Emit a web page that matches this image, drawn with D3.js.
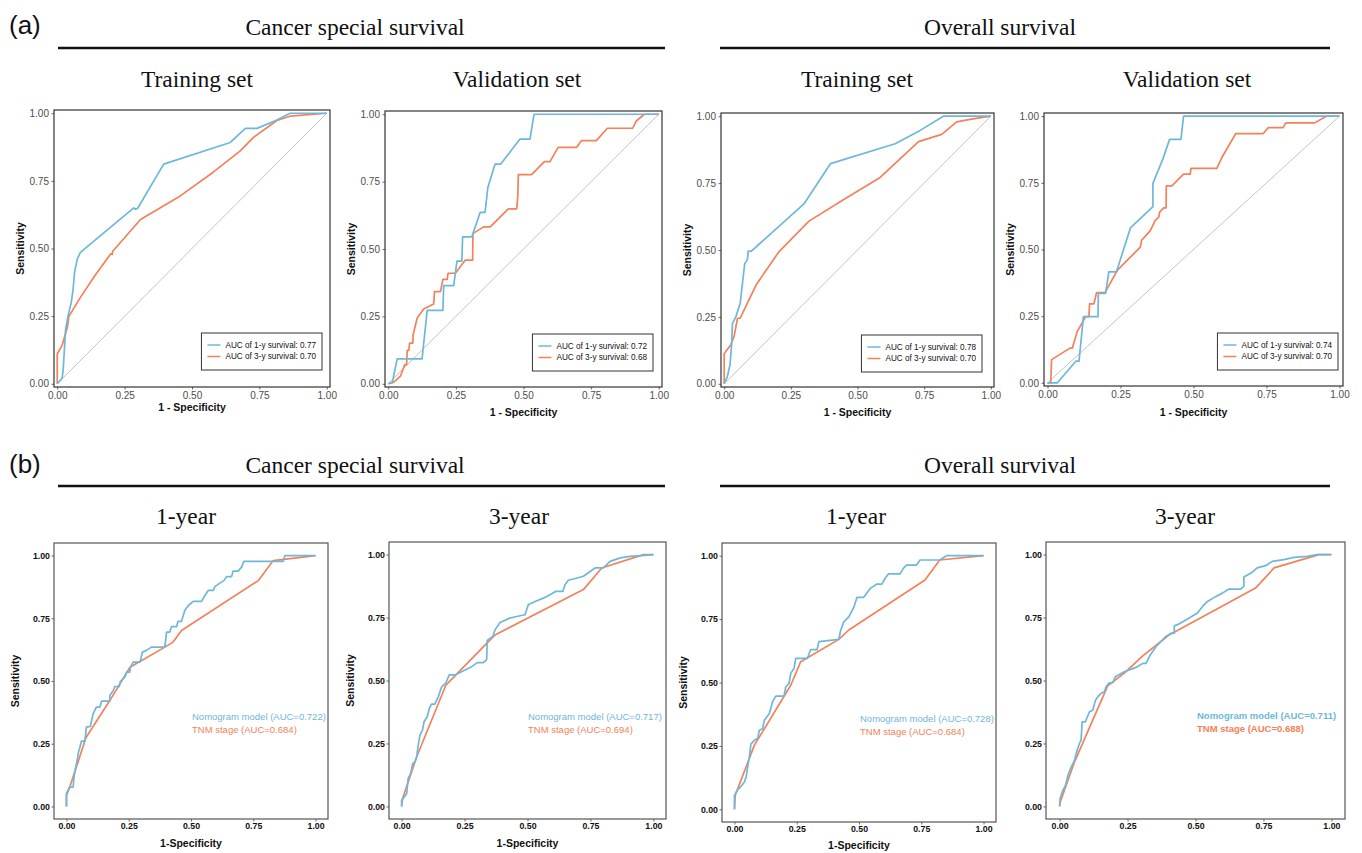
<!DOCTYPE html>
<html><head><meta charset="utf-8">
<script src="https://cdn.jsdelivr.net/npm/d3@7"></script>
<style>body{margin:0;background:#fff}svg{display:block}</style>
</head><body>
<svg id="c" width="1362" height="853"></svg>
<script>
// ---------- texts ----------
const sectionLabels = ["(a)", "(b)"];
const groupTitles = ["Cancer special survival", "Overall survival"];
const panelTitlesA = ["Training set", "Validation set", "Training set", "Validation set"];
const panelTitlesB = ["1-year", "3-year", "1-year", "3-year"];
const tickValues = [0, 0.25, 0.5, 0.75, 1];
const tickLabels = ["0.00", "0.25", "0.50", "0.75", "1.00"];
const legendA = [
  ["AUC of 1-y survival: 0.77", "AUC of 3-y survival: 0.70"],
  ["AUC of 1-y survival: 0.72", "AUC of 3-y survival: 0.68"],
  ["AUC of 1-y survival: 0.78", "AUC of 3-y survival: 0.70"],
  ["AUC of 1-y survival: 0.74", "AUC of 3-y survival: 0.70"]
];
const legendB = [
  ["Nomogram model (AUC=0.722)", "TNM stage (AUC=0.684)"],
  ["Nomogram model (AUC=0.717)", "TNM stage (AUC=0.694)"],
  ["Nomogram model (AUC=0.728)", "TNM stage (AUC=0.684)"],
  ["Nomogram model (AUC=0.711)", "TNM stage (AUC=0.688)"]
];

// ---------- data: [1-specificity, sensitivity] ----------
const cssTrain1y = [[0,0],[0.018,0.02],[0.022,0.05],[0.031,0.2],[0.04,0.25],[0.052,0.3],[0.059,0.35],[0.064,0.41],[0.074,0.46],[0.086,0.486],[0.284,0.65],[0.29,0.645],[0.298,0.648],[0.395,0.812],[0.642,0.892],[0.698,0.944],[0.741,0.944],[0.815,0.975],[0.864,1],[1,1]];
const cssTrain3y = [[0,0],[0,0.11],[0.018,0.142],[0.031,0.186],[0.038,0.21],[0.043,0.248],[0.08,0.31],[0.14,0.4],[0.198,0.48],[0.204,0.478],[0.206,0.49],[0.309,0.607],[0.45,0.69],[0.58,0.783],[0.679,0.861],[0.728,0.911],[0.815,0.973],[0.864,0.989],[1,1]];
const cssVal1y = [[0,0],[0.015,0.004],[0.033,0.092],[0.125,0.092],[0.144,0.272],[0.202,0.272],[0.205,0.364],[0.242,0.364],[0.254,0.455],[0.272,0.455],[0.275,0.545],[0.309,0.545],[0.34,0.636],[0.358,0.636],[0.368,0.727],[0.395,0.815],[0.416,0.815],[0.487,0.908],[0.524,0.908],[0.539,1],[1,1]];
const cssVal3y = [[0,0],[0.021,0.006],[0.045,0.028],[0.061,0.071],[0.068,0.071],[0.07,0.124],[0.076,0.124],[0.079,0.151],[0.091,0.151],[0.092,0.182],[0.107,0.244],[0.131,0.277],[0.168,0.296],[0.171,0.342],[0.193,0.342],[0.202,0.387],[0.218,0.387],[0.221,0.41],[0.248,0.41],[0.285,0.459],[0.312,0.459],[0.313,0.557],[0.352,0.582],[0.377,0.582],[0.444,0.649],[0.475,0.649],[0.479,0.699],[0.481,0.776],[0.53,0.776],[0.577,0.824],[0.598,0.824],[0.628,0.877],[0.696,0.877],[0.714,0.902],[0.769,0.902],[0.81,0.948],[0.904,0.948],[0.917,0.975],[0.947,1],[1,1]];
const osTrain1y = [[0,0],[0.012,0.028],[0.022,0.072],[0.028,0.15],[0.031,0.226],[0.044,0.251],[0.06,0.301],[0.077,0.449],[0.087,0.464],[0.09,0.496],[0.102,0.496],[0.299,0.672],[0.399,0.823],[0.641,0.897],[0.735,0.947],[0.822,1],[1,1]];
const osTrain3y = [[0,0],[0,0.113],[0.025,0.146],[0.037,0.177],[0.044,0.214],[0.05,0.245],[0.06,0.245],[0.12,0.37],[0.205,0.493],[0.318,0.608],[0.45,0.69],[0.585,0.771],[0.729,0.905],[0.816,0.932],[0.872,0.979],[0.922,0.988],[1,1]];
const osVal1y = [[0,0],[0.034,0],[0.097,0.081],[0.108,0.081],[0.123,0.248],[0.173,0.248],[0.174,0.335],[0.199,0.335],[0.21,0.416],[0.236,0.416],[0.284,0.581],[0.361,0.661],[0.361,0.748],[0.395,0.839],[0.418,0.913],[0.457,0.913],[0.466,1],[1,1]];
const osVal3y = [[0,0],[0.011,0],[0.014,0.087],[0.077,0.13],[0.085,0.13],[0.102,0.193],[0.131,0.248],[0.142,0.248],[0.144,0.296],[0.159,0.296],[0.168,0.338],[0.197,0.338],[0.239,0.422],[0.318,0.509],[0.322,0.534],[0.352,0.571],[0.369,0.609],[0.381,0.621],[0.384,0.64],[0.398,0.656],[0.406,0.656],[0.407,0.739],[0.426,0.739],[0.466,0.783],[0.489,0.783],[0.491,0.804],[0.58,0.804],[0.597,0.845],[0.645,0.935],[0.739,0.935],[0.756,0.957],[0.807,0.957],[0.816,0.975],[0.915,0.975],[0.955,1],[1,1]];

const cssNomo1y = [[0,0],[0,0.053],[0.007,0.065],[0.013,0.077],[0.027,0.077],[0.029,0.104],[0.033,0.137],[0.043,0.183],[0.048,0.216],[0.054,0.236],[0.06,0.26],[0.074,0.26],[0.08,0.316],[0.096,0.319],[0.107,0.369],[0.12,0.396],[0.134,0.396],[0.141,0.42],[0.174,0.42],[0.174,0.442],[0.187,0.46],[0.194,0.478],[0.212,0.478],[0.217,0.499],[0.234,0.515],[0.241,0.535],[0.254,0.535],[0.257,0.555],[0.268,0.575],[0.295,0.575],[0.305,0.615],[0.321,0.622],[0.341,0.635],[0.395,0.635],[0.402,0.695],[0.415,0.695],[0.422,0.717],[0.442,0.717],[0.448,0.738],[0.462,0.738],[0.475,0.781],[0.489,0.801],[0.509,0.817],[0.542,0.817],[0.556,0.841],[0.569,0.861],[0.589,0.861],[0.596,0.876],[0.616,0.89],[0.632,0.9],[0.643,0.916],[0.663,0.916],[0.669,0.938],[0.689,0.938],[0.703,0.954],[0.712,0.977],[0.87,0.977],[0.877,1],[1,1]];
const cssTnm1y = [[0,0],[0,0.044],[0.013,0.077],[0.04,0.157],[0.078,0.274],[0.174,0.422],[0.255,0.555],[0.395,0.635],[0.428,0.655],[0.462,0.701],[0.77,0.9],[0.83,0.98],[1,1]];
const cssNomo3y = [[0,0],[0,0.024],[0.02,0.05],[0.026,0.11],[0.036,0.13],[0.044,0.17],[0.053,0.177],[0.06,0.197],[0.066,0.243],[0.073,0.283],[0.083,0.303],[0.089,0.336],[0.102,0.356],[0.11,0.389],[0.119,0.406],[0.132,0.406],[0.146,0.436],[0.159,0.475],[0.176,0.491],[0.189,0.522],[0.212,0.522],[0.252,0.542],[0.278,0.555],[0.301,0.571],[0.325,0.571],[0.338,0.584],[0.34,0.659],[0.362,0.675],[0.371,0.701],[0.391,0.73],[0.43,0.748],[0.457,0.754],[0.49,0.761],[0.503,0.801],[0.53,0.814],[0.563,0.827],[0.589,0.841],[0.613,0.854],[0.64,0.854],[0.649,0.88],[0.662,0.898],[0.682,0.903],[0.722,0.914],[0.768,0.947],[0.801,0.947],[0.828,0.973],[0.868,0.987],[0.907,0.993],[0.954,0.996],[1,1]];
const cssTnm3y = [[0,0],[0.004,0.031],[0.06,0.197],[0.176,0.482],[0.371,0.681],[0.722,0.861],[0.795,0.947],[0.96,1],[1,1]];
const osNomo1y = [[0,0],[0,0.055],[0.011,0.075],[0.027,0.091],[0.04,0.108],[0.047,0.128],[0.053,0.167],[0.06,0.207],[0.066,0.257],[0.08,0.272],[0.093,0.279],[0.1,0.312],[0.113,0.318],[0.12,0.351],[0.14,0.378],[0.153,0.424],[0.166,0.446],[0.199,0.446],[0.206,0.483],[0.219,0.496],[0.226,0.536],[0.239,0.555],[0.246,0.595],[0.293,0.595],[0.306,0.63],[0.332,0.63],[0.339,0.661],[0.419,0.67],[0.426,0.704],[0.439,0.739],[0.459,0.759],[0.479,0.796],[0.492,0.836],[0.519,0.836],[0.545,0.871],[0.572,0.888],[0.592,0.888],[0.605,0.911],[0.618,0.928],[0.665,0.928],[0.678,0.95],[0.691,0.963],[0.731,0.963],[0.745,0.983],[0.824,0.983],[0.851,1],[1,1]];
const osTnm1y = [[0,0],[0.003,0.055],[0.08,0.253],[0.226,0.489],[0.266,0.582],[0.419,0.67],[0.459,0.707],[0.765,0.904],[0.824,0.983],[1,1]];
const osNomo3y = [[0,0],[0.002,0.031],[0.012,0.064],[0.022,0.084],[0.031,0.124],[0.043,0.157],[0.055,0.183],[0.061,0.21],[0.073,0.25],[0.079,0.263],[0.083,0.336],[0.095,0.336],[0.1,0.349],[0.11,0.376],[0.122,0.382],[0.132,0.422],[0.141,0.436],[0.153,0.449],[0.165,0.455],[0.171,0.475],[0.183,0.491],[0.196,0.491],[0.205,0.515],[0.238,0.535],[0.281,0.552],[0.306,0.568],[0.318,0.568],[0.33,0.595],[0.355,0.635],[0.373,0.655],[0.391,0.675],[0.41,0.688],[0.422,0.688],[0.422,0.717],[0.44,0.725],[0.471,0.744],[0.507,0.768],[0.526,0.794],[0.544,0.814],[0.575,0.834],[0.599,0.847],[0.623,0.863],[0.666,0.863],[0.678,0.874],[0.678,0.911],[0.709,0.93],[0.727,0.947],[0.758,0.956],[0.782,0.973],[0.825,0.98],[0.862,0.989],[0.911,0.993],[0.947,1],[1,1]];
const osTnm3y = [[0,0],[0.002,0.017],[0.055,0.177],[0.177,0.479],[0.238,0.529],[0.306,0.598],[0.373,0.655],[0.403,0.681],[0.721,0.867],[0.789,0.947],[0.954,1],[1,1]];

const seriesA = [[cssTrain1y, cssTrain3y], [cssVal1y, cssVal3y], [osTrain1y, osTrain3y], [osVal1y, osVal3y]];
const seriesB = [[cssNomo1y, cssTnm1y], [cssNomo3y, cssTnm3y], [osNomo1y, osTnm1y], [osNomo3y, osTnm3y]];

// ---------- layout / style ----------
const BLUE = "#6db8da", ORANGE = "#f3815a";
const SANS = "'Liberation Sans', Arial, sans-serif", SERIF = "'Liberation Serif', 'Times New Roman', serif";
const layoutA = [
  {l:54, r:330, t:110, b:387, tx:197, xl:407, legR:322, legT:333},
  {l:385, r:662, t:111, b:387, tx:517, xl:412, legR:653, legT:334},
  {l:721, r:994, t:113, b:387, tx:857, xl:412, legR:982, legT:335},
  {l:1044, r:1343, t:113, b:386, tx:1187, xl:412, legR:1338, legT:333}
];
const layoutB = [
  {l:54, r:328, t:543, b:819, tx:186, xl:843, lx:192, ly:717, ylab:true, bold:false},
  {l:389, r:666, t:542, b:819, tx:519, xl:843, lx:528, ly:717, ylab:true, bold:false},
  {l:722, r:996, t:543, b:822, tx:856, xl:845, lx:860, ly:719, ylab:true, bold:false},
  {l:1046, r:1345, t:542, b:819, tx:1185, xl:null, lx:1197, ly:716, ylab:false, bold:true}
];

const svg = d3.select("#c");

// section labels, group titles, rules
const headerRows = [{lab:34, title:35, rule:48, ptitle:87}, {lab:473, title:473, rule:486, ptitle:524}];
const groupX = [[355, 58, 665], [1000, 720, 1330]];
headerRows.forEach((h, i) => {
  svg.append("text").attr("x", 9).attr("y", h.lab).text(sectionLabels[i])
    .style("font-family", SANS).style("font-size", "26px").attr("fill", "#111");
  groupX.forEach((g, j) => {
    svg.append("text").attr("x", g[0]).attr("y", h.title).attr("text-anchor", "middle")
      .text(groupTitles[j]).style("font-family", SERIF).style("font-size", "23.5px").attr("fill", "#111");
    svg.append("line").attr("x1", g[1]).attr("x2", g[2]).attr("y1", h.rule).attr("y2", h.rule)
      .attr("stroke", "#111").attr("stroke-width", 2.4);
  });
});

function drawPanel(L, series, title, legend, kind) {
  const e = kind === "a" ? 0.012 : 0.05;
  const x = d3.scaleLinear().domain([-e, 1 + e]).range([L.l, L.r]);
  const y = d3.scaleLinear().domain([-e, 1 + e]).range([L.b, L.t]);
  const g = svg.append("g");
  const titleY = kind === "a" ? headerRows[0].ptitle : headerRows[1].ptitle;
  svg.append("text").attr("x", L.tx).attr("y", titleY).attr("text-anchor", "middle").text(title)
    .style("font-family", SERIF).style("font-size", "23.5px").attr("fill", "#111");

  const tickCol = kind === "a" ? "#4d4d4d" : "#111";
  const xa = d3.axisBottom(x).tickValues(tickValues).tickFormat((d, i) => tickLabels[i])
    .tickSize(2.5).tickPadding(kind === "a" ? 2.5 : 1.5);
  const ya = d3.axisLeft(y).tickValues(tickValues).tickFormat((d, i) => tickLabels[i])
    .tickSize(2.5).tickPadding(kind === "a" ? 2.5 : 1.5);
  [g.append("g").attr("transform", `translate(0,${L.b})`).call(xa),
   g.append("g").attr("transform", `translate(${L.l},0)`).call(ya)].forEach(ax => {
    ax.select(".domain").remove();
    ax.selectAll(".tick line").attr("stroke", "#444").attr("stroke-width", 0.8);
    ax.selectAll(".tick text").attr("fill", tickCol)
      .style("font-family", SANS).style("font-size", kind === "a" ? "10px" : "8.8px")
      .style("font-weight", kind === "a" ? "normal" : "bold");
  });

  if (kind === "a") {
    g.append("line").attr("x1", x(0)).attr("y1", y(0)).attr("x2", x(1)).attr("y2", y(1))
      .attr("stroke", "#c4c4c4").attr("stroke-width", 1);
  }
  const line = d3.line().x(d => x(d[0])).y(d => y(d[1]));
  [series[1], series[0]].forEach((s, i) => {
    g.append("path").datum(s).attr("d", line).attr("fill", "none")
      .attr("stroke", i === 0 ? ORANGE : BLUE).attr("stroke-width", 1.7).attr("stroke-linejoin", "round");
  });
  // frame
  g.append("rect").attr("x", L.l).attr("y", L.t).attr("width", L.r - L.l).attr("height", L.b - L.t)
    .attr("fill", "none").attr("stroke", kind === "a" ? "#333" : "#555").attr("stroke-width", 1.2);

  // axis titles
  if (kind === "a" || L.ylab) {
    const cy = (L.t + L.b) / 2, cx = L.l - (kind === "a" ? 34 : 39);
    g.append("text").attr("transform", `translate(${cx},${cy}) rotate(-90)`).attr("text-anchor", "middle")
      .attr("dy", "0.35em").text("Sensitivity").style("font-family", SANS).style("font-size", "10.5px")
      .style("font-weight", "bold").attr("fill", "#111");
  }
  if (L.xl !== null) {
    g.append("text").attr("x", (L.l + L.r) / 2).attr("y", L.xl).attr("dy", "0.35em").attr("text-anchor", "middle")
      .text(kind === "a" ? "1 - Specificity" : "1-Specificity").style("font-family", SANS)
      .style("font-size", "10.5px").style("font-weight", "bold").attr("fill", "#111");
  }

  // legends
  if (kind === "a") {
    const lg = g.append("g");
    const texts = legend.map((t, i) => lg.append("text").attr("y", L.legT + 12 + i * 11.5).attr("dy", "0.35em")
      .text(t).style("font-family", SANS).style("font-size", "8.2px").attr("fill", "#111"));
    const tw = d3.max(texts, t => t.node().getComputedTextLength());
    const w = tw + 30, bx = L.legR - w;
    texts.forEach(t => t.attr("x", bx + 24));
    lg.insert("rect", "text").attr("x", bx).attr("y", L.legT).attr("width", w).attr("height", 37)
      .attr("fill", "#fff").attr("stroke", "#333").attr("stroke-width", 1);
    [BLUE, ORANGE].forEach((c, i) => lg.append("line").attr("x1", bx + 6).attr("x2", bx + 19)
      .attr("y1", L.legT + 12 + i * 11.5).attr("y2", L.legT + 12 + i * 11.5).attr("stroke", c).attr("stroke-width", 1.5));
  } else {
    legend.forEach((t, i) => g.append("text").attr("x", L.lx).attr("y", L.ly + i * 12.5).attr("dy", "0.35em")
      .text(t).style("font-family", SANS).style("font-size", "9.5px")
      .style("font-weight", L.bold ? "bold" : "normal").attr("fill", i === 0 ? BLUE : ORANGE));
  }
}

layoutA.forEach((L, i) => drawPanel(L, seriesA[i], panelTitlesA[i], legendA[i], "a"));
layoutB.forEach((L, i) => drawPanel(L, seriesB[i], panelTitlesB[i], legendB[i], "b"));
</script>
</body></html>
